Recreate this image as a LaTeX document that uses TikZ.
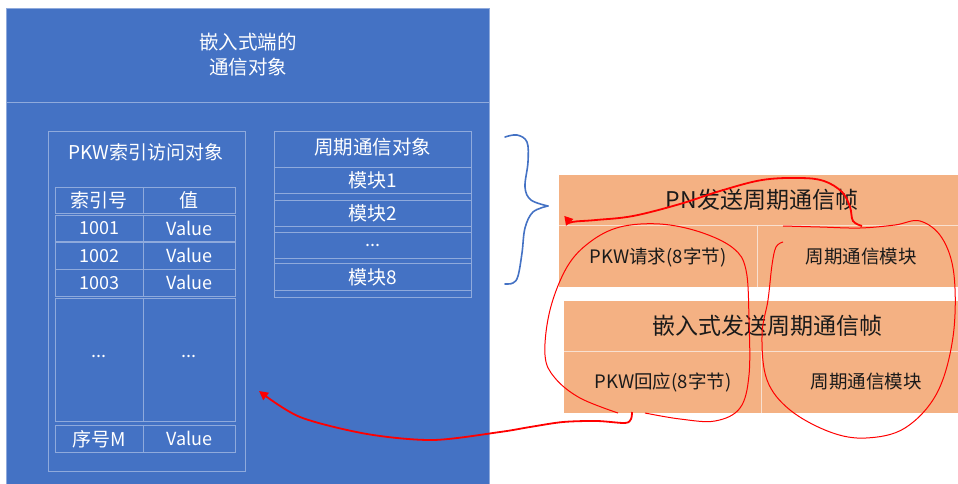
\documentclass[tikz,border=0pt]{standalone}
\usepackage{fontspec}
\setmainfont{Noto Sans CJK SC}
\usetikzlibrary{arrows.meta}
\definecolor{bfill}{HTML}{4472C4}
\definecolor{bline}{HTML}{8FAADC}
\definecolor{ofill}{HTML}{F4B183}
\definecolor{oline}{HTML}{F8E0D0}
\definecolor{otext}{HTML}{1A1A1A}
\tikzset{
  bbox/.style={draw=bline, line width=0.8pt, inner sep=0pt, anchor=north west},
  bt/.style={text=white, font=\fontsize{18}{21}\selectfont, inner sep=0pt},
  obox/.style={fill=ofill, draw=none, inner sep=0pt, anchor=north west},
  osep/.style={draw=oline, line width=0.8pt},
  otitle/.style={text=otext, font=\fontsize{23}{26}\selectfont, inner sep=0pt},
  osub/.style={text=otext, font=\fontsize{18.5}{21}\selectfont, inner sep=0pt},
  redloop/.style={draw=red, line width=1pt},
  redarrow/.style={draw=red, line width=1.8pt, -{Triangle[length=9pt,width=9pt]}},
  brace/.style={draw=bfill, line width=1.6pt, line cap=round}
}
\begin{document}
\begin{tikzpicture}[x=1pt,y=-1pt]
\useasboundingbox (0,0) rectangle (958,484);
% blue main box
\node[bbox, fill=bfill, minimum width=483, minimum height=480] (main) at (6,8) {};
\coordinate (hsl) at (6,102);
\coordinate (hsr) at (489,102);
\draw[bline, line width=0.8pt] (hsl) -- (hsr);
\node[bt, align=center, font=\fontsize{19.5}{25}\selectfont] (head) at (248,55) {嵌入式端的\\通信对象};
% PKW box
\node[bbox, minimum width=197, minimum height=340] (pkw) at (48,131) {};
\node[bt, font=\fontsize{19}{22}\selectfont] (pkwt) at (146,152) {PKW索引访问对象};
% table
\node[bbox, minimum width=88, minimum height=26] (h1) at (55,187) {};
\node[bbox, minimum width=92, minimum height=26] (h2) at (143,187) {};
\node[bt, font=\fontsize{19}{22}\selectfont] (h1t) at (h1.center) {索引号};
\node[bt, font=\fontsize{19}{22}\selectfont] (h2t) at (h2.center) {值};
\node[bbox, minimum width=88, minimum height=26] (r1a) at (55,215) {};
\node[bbox, minimum width=92, minimum height=26] (r1b) at (143,215) {};
\node[bt] (r1at) at (r1a.center) {1001};
\node[bt] (r1bt) at (r1b.center) {Value};
\node[bbox, minimum width=88, minimum height=27] (r2a) at (55,242) {};
\node[bbox, minimum width=92, minimum height=27] (r2b) at (143,242) {};
\node[bt] (r2at) at (r2a.center) {1002};
\node[bt] (r2bt) at (r2b.center) {Value};
\node[bbox, minimum width=88, minimum height=27] (r3a) at (55,269) {};
\node[bbox, minimum width=92, minimum height=27] (r3b) at (143,269) {};
\node[bt] (r3at) at (r3a.center) {1003};
\node[bt] (r3bt) at (r3b.center) {Value};
\node[bbox, minimum width=88, minimum height=123] (r4a) at (55,298) {};
\node[bbox, minimum width=92, minimum height=123] (r4b) at (143,298) {};
\node[bt] (r4at) at ([yshift=3]r4a.center) {...};
\node[bt] (r4bt) at ([yshift=3]r4b.center) {...};
\node[bbox, minimum width=88, minimum height=27] (r5a) at (55,425) {};
\node[bbox, minimum width=92, minimum height=27] (r5b) at (143,425) {};
\node[bt, font=\fontsize{19}{22}\selectfont] (r5at) at (r5a.center) {序号M};
\node[bt] (r5bt) at (r5b.center) {Value};
% cyclic object box
\node[bbox, minimum width=197, minimum height=166] (cyc) at (274,131) {};
\node[bbox, minimum width=197, minimum height=36] (cyct) at (274,131) {};
\node[bt, font=\fontsize{19.5}{22}\selectfont] (cyctt) at ([yshift=2]cyct.center) {周期通信对象};
\node[bbox, minimum width=197, minimum height=26] (m1) at (274,167) {};
\node[bt, font=\fontsize{19}{22}\selectfont] (m1t) at (m1.center) {模块1};
\node[bbox, minimum width=197, minimum height=26] (m2) at (274,200) {};
\node[bt, font=\fontsize{19}{22}\selectfont] (m2t) at (m2.center) {模块2};
\node[bbox, minimum width=197, minimum height=26] (m3) at (274,232) {};
\node[bt] (m3t) at (m3.center) {...};
\node[bbox, minimum width=197, minimum height=27] (m8) at (274,263) {};
\node[bt, font=\fontsize{19}{22}\selectfont] (m8t) at (m8.center) {模块8};
% orange frame 1
\node[obox, minimum width=399, minimum height=112] (pn) at (559,175) {};
\coordinate (pnl) at (559,225);
\coordinate (pnr) at (958,225);
\coordinate (pnvt) at (757,225);
\coordinate (pnvb) at (757,287);
\draw[osep] (pnl) -- (pnr);
\draw[osep] (pnvt) -- (pnvb);
\node[otitle] (pnt) at (762,200) {PN发送周期通信帧};
\node[osub] (pnreq) at (658,257) {PKW请求(8字节)};
\node[osub] (pncyc) at (861,257) {周期通信模块};
% orange frame 2
\node[obox, minimum width=394, minimum height=112] (em) at (564,301) {};
\coordinate (eml) at (564,351);
\coordinate (emr) at (958,351);
\coordinate (emvt) at (761,351);
\coordinate (emvb) at (761,413);
\draw[osep] (eml) -- (emr);
\draw[osep] (emvt) -- (emvb);
\node[otitle] (emt) at (767,326) {嵌入式发送周期通信帧};
\node[osub] (emresp) at (663,382) {PKW回应(8字节)};
\node[osub] (emcyc) at (866,382) {周期通信模块};
% blue brace
\draw[brace] plot[smooth, tension=0.6] coordinates {(505,137) (517,135) (527,142) (528,162) (525,187) (531,200) (548,206)};
\draw[brace] plot[smooth, tension=0.6] coordinates {(548,206) (533,212) (525,228) (522,253) (518,276) (513,283) (505,284)};
% red annotations
\draw[redarrow] plot[smooth, tension=0.6] coordinates {(862,226) (853,221) (850,207) (842,192) (824,181) (800,178) (762,180) (720,191) (680,204) (633,216) (596,220) (572,222) (566,226)};
\draw[redloop] plot[smooth, tension=0.6] coordinates {(783,242) (776,247) (772,265) (768,300) (762,335) (767,380) (790,410) (830,432) (866,438) (905,428) (937,393) (953,337) (954,275) (942,238) (920,221) (895,225) (860,228) (820,227) (783,226)};
\draw[redloop] plot[smooth, tension=0.6] coordinates {(645,413) (680,419) (715,421) (740,408) (749,375) (749,320) (746,270) (733,248) (700,232) (660,224) (620,227) (590,242) (567,267) (550,310) (545,355) (555,378) (580,398) (618,413)};
\draw[redarrow] plot[smooth, tension=0.5] coordinates {(632,412) (631,419) (625,423) (597,421) (563,422) (530,427) (500,432) (433,440) (367,434) (300,417) (259,391)};
\end{tikzpicture}
\end{document}
